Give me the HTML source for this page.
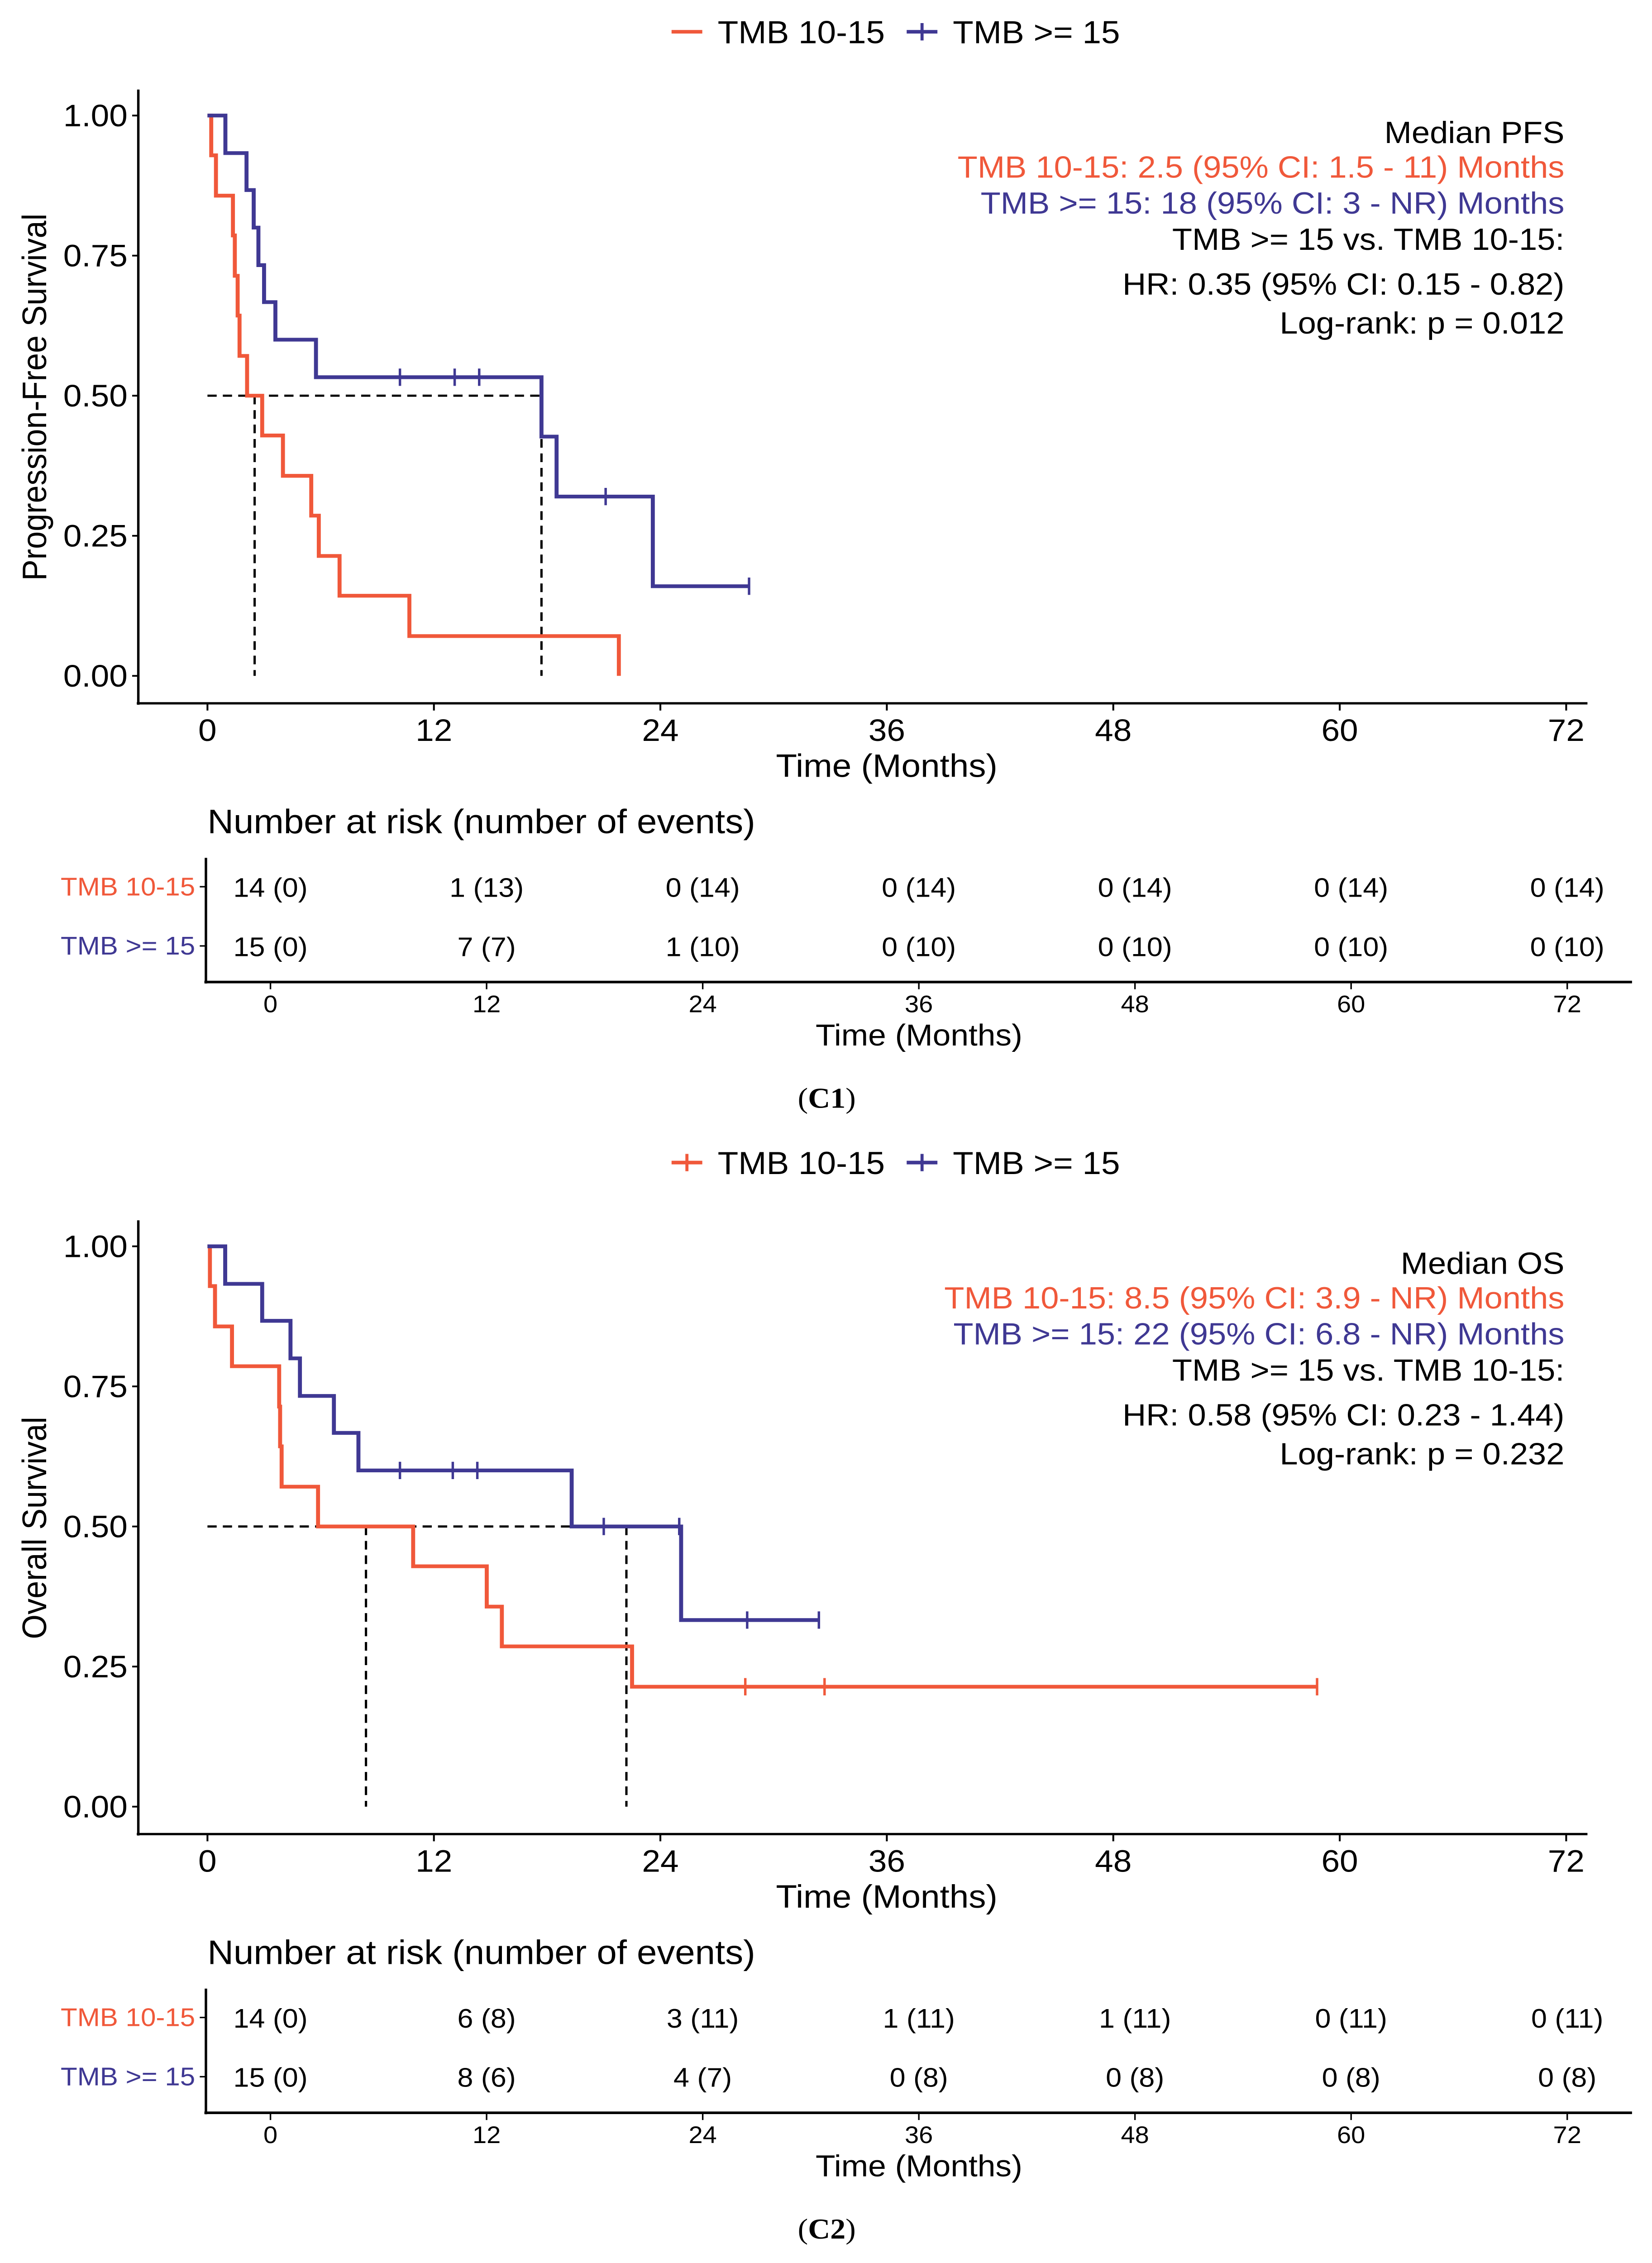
<!DOCTYPE html>
<html><head><meta charset="utf-8">
<style>
html,body{margin:0;padding:0;background:#fff;width:100%;height:100%;overflow:hidden;}
svg{display:block;position:absolute;left:0;top:0;width:100vw;height:100vh;font-family:"Liberation Sans",Arial,sans-serif;}
</style></head>
<body>
<svg id="fig" viewBox="0 0 1075 1567" preserveAspectRatio="none" xmlns="http://www.w3.org/2000/svg"></svg>
<script>
// ---- data ----
const xTicks = [0, 12, 24, 36, 48, 60, 72];
const yTicks = [0, 0.25, 0.5, 0.75, 1.0];
const yTickLabels = ["0.00", "0.25", "0.50", "0.75", "1.00"];
const groupNames = ["TMB 10-15", "TMB >= 15"];

// PFS
const pfsRedTimes = [0, 0.2, 0.45, 1.35, 1.45, 1.6, 1.7, 2.1, 2.9, 4.0, 5.5, 5.9, 7.0, 10.7, 21.8];
const pfsRedSurv = [1, 0.929, 0.857, 0.786, 0.714, 0.643, 0.571, 0.5, 0.429, 0.357, 0.286, 0.214, 0.143, 0.071, 0];
const pfsRedCensor = [];
const pfsRedEnd = 21.8;
const pfsBlueTimes = [0, 0.95, 2.07, 2.45, 2.7, 3.0, 3.6, 5.75, 17.7, 18.5, 23.6];
const pfsBlueSurv = [1, 0.933, 0.867, 0.8, 0.733, 0.667, 0.6, 0.533, 0.427, 0.32, 0.16];
const pfsBlueCensor = [10.2, 13.1, 14.4, 21.1, 28.7];
const pfsBlueEnd = 28.7;
const pfsMedians = [2.5, 17.7];
const pfsRiskRed = ["14 (0)", "1 (13)", "0 (14)", "0 (14)", "0 (14)", "0 (14)", "0 (14)"];
const pfsRiskBlue = ["15 (0)", "7 (7)", "1 (10)", "0 (10)", "0 (10)", "0 (10)", "0 (10)"];
const pfsAnnot = ["Median PFS", "TMB 10-15: 2.5 (95% CI: 1.5 - 11) Months", "TMB >= 15: 18 (95% CI: 3 - NR) Months", "TMB >= 15 vs. TMB 10-15:", "HR: 0.35 (95% CI: 0.15 - 0.82)", "Log-rank: p = 0.012"];

// OS
const osRedTimes = [0, 0.13, 0.4, 1.3, 3.8, 3.85, 3.93, 5.86, 10.9, 14.8, 15.6, 22.5];
const osRedSurv = [1, 0.929, 0.857, 0.786, 0.714, 0.643, 0.571, 0.5, 0.429, 0.357, 0.286, 0.214];
const osRedCensor = [28.5, 32.7, 58.8];
const osRedEnd = 58.8;
const osBlueTimes = [0, 0.94, 2.9, 4.4, 4.9, 6.7, 8.0, 19.3, 25.1];
const osBlueSurv = [1, 0.933, 0.867, 0.8, 0.733, 0.667, 0.6, 0.5, 0.333];
const osBlueCensor = [10.2, 13.0, 14.3, 21.0, 25.0, 28.6, 32.4];
const osBlueEnd = 32.4;
const osMedians = [8.4, 22.2];
const osRiskRed = ["14 (0)", "6 (8)", "3 (11)", "1 (11)", "1 (11)", "0 (11)", "0 (11)"];
const osRiskBlue = ["15 (0)", "8 (6)", "4 (7)", "0 (8)", "0 (8)", "0 (8)", "0 (8)"];
const osAnnot = ["Median OS", "TMB 10-15: 8.5 (95% CI: 3.9 - NR) Months", "TMB >= 15: 22 (95% CI: 6.8 - NR) Months", "TMB >= 15 vs. TMB 10-15:", "HR: 0.58 (95% CI: 0.23 - 1.44)", "Log-rank: p = 0.232"];

const RED = "#F0583A", BLUE = "#3F3893";
const NS = "http://www.w3.org/2000/svg";
const svg = document.getElementById("fig");

function mk(tag, attrs, parent, text) {
  const e = document.createElementNS(NS, tag);
  for (const k in attrs) e.setAttribute(k, attrs[k]);
  if (text !== undefined) e.textContent = text;
  (parent || svg).appendChild(e);
  return e;
}

function panel(off, cfg) {
  const g = mk("g", {});
  
  
  const X = t => 135 + 12.28 * t;
  const Y = v => off + 468 - 388 * v;

  const lg = mk("g", {}, g);
  
  
  const ly = off + 22;
  mk("line", {x1: 437, x2: 457, y1: ly, y2: ly, stroke: RED, "stroke-width": 2.5}, lg);
  if (cfg.legendCrossRed) mk("line", {x1: 447, x2: 447, y1: ly - 6, y2: ly + 6, stroke: RED, "stroke-width": 2}, lg);
  const lt1 = mk("text", {x: 467, y: ly + 8, "font-size": 22}, lg, groupNames[0]);
  
  
  mk("line", {x1: 590, x2: 610, y1: ly, y2: ly, stroke: BLUE, "stroke-width": 2.5}, lg);
  mk("line", {x1: 600, x2: 600, y1: ly - 6, y2: ly + 6, stroke: BLUE, "stroke-width": 2}, lg);
  const lt2 = mk("text", {x: 620, y: ly + 8, "font-size": 22}, lg, groupNames[1]);
  
  

  const ax = mk("g", {}, g);
  
  
  mk("line", {x1: 90, x2: 90, y1: off + 62, y2: off + 488, stroke: "#000", "stroke-width": 1.6}, ax);
  mk("line", {x1: 89, x2: 1033, y1: off + 487, y2: off + 487, stroke: "#000", "stroke-width": 1.6}, ax);
  yTicks.forEach((v, i) => {
    mk("line", {x1: 86, x2: 90, y1: Y(v), y2: Y(v), stroke: "#000", "stroke-width": 1.2}, ax);
    const t = mk("text", {x: 83, y: Y(v) + 7.5, "font-size": 21.5, "text-anchor": "end"}, ax, yTickLabels[i]);
    
    
  });
  xTicks.forEach(v => {
    mk("line", {x1: X(v), x2: X(v), y1: off + 487, y2: off + 492, stroke: "#000", "stroke-width": 1.2}, ax);
    const t = mk("text", {x: X(v), y: off + 513, "font-size": 21.5, "text-anchor": "middle"}, ax, String(v));
    
    
  });
  const xt = mk("text", {x: 577, y: off + 538, "font-size": 22.5, "text-anchor": "middle"}, ax, "Time (Months)");
  
  
  const yt = mk("text", {x: 0, y: 0, "font-size": 22, "text-anchor": "middle", transform: `translate(30,${off + 275}) rotate(-90)`}, ax, cfg.ytitle);
  
  

  const md = mk("g", {stroke: "#000", "stroke-width": 1.5, "stroke-dasharray": "6,4", fill: "none"}, g);
  
  
  mk("line", {x1: X(0), x2: X(cfg.medians[1]), y1: Y(0.5), y2: Y(0.5)}, md);
  cfg.medians.forEach(m => mk("line", {x1: X(m), x2: X(m), y1: Y(0.5), y2: Y(0)}, md));

  function curve(times, surv, end, censor, color, name) {
    let d = `M${X(times[0])},${Y(surv[0])}`;
    for (let i = 1; i < times.length; i++) {
      d += ` H${X(times[i])} V${Y(surv[i])}`;
    }
    d += ` H${X(end)}`;
    const p = mk("path", {d: d, fill: "none", stroke: color, "stroke-width": 2.6}, g);
    
    
    censor.forEach(c => {
      let s = surv[0];
      for (let i = 0; i < times.length; i++) if (times[i] <= c) s = surv[i];
      const m = mk("line", {x1: X(c), x2: X(c), y1: Y(s) - 6, y2: Y(s) + 6, stroke: color, "stroke-width": 1.6}, g);
      
      
    });
  }
  curve(cfg.redT, cfg.redS, cfg.redEnd, cfg.redC, RED, "curve-tmb-10-15");
  curve(cfg.blueT, cfg.blueS, cfg.blueEnd, cfg.blueC, BLUE, "curve-tmb-ge-15");

  const an = mk("g", {"font-size": 21.3, "text-anchor": "end"}, g);
  
  
  const ays = [99, 123, 148, 173, 204, 231];
  const acol = ["#000", RED, BLUE, "#000", "#000", "#000"];
  cfg.annot.forEach((s, i) => mk("text", {x: 1018, y: off + ays[i], fill: acol[i]}, an, s));

  const rt = mk("g", {}, g);
  
  
  const RX = t => 176 + 11.72 * t;
  mk("text", {x: 135, y: off + 577, "font-size": 23.5}, rt, "Number at risk (number of events)");
  mk("line", {x1: 134, x2: 134, y1: off + 594, y2: off + 681, stroke: "#000", "stroke-width": 1.6}, rt);
  mk("line", {x1: 133, x2: 1062, y1: off + 680, y2: off + 680, stroke: "#000", "stroke-width": 1.8}, rt);
  mk("line", {x1: 130, x2: 134, y1: off + 614, y2: off + 614, stroke: "#000", "stroke-width": 1}, rt);
  mk("line", {x1: 130, x2: 134, y1: off + 655, y2: off + 655, stroke: "#000", "stroke-width": 1}, rt);
  mk("text", {x: 127, y: off + 620, "font-size": 17.7, "text-anchor": "end", fill: RED}, rt, groupNames[0]);
  mk("text", {x: 127, y: off + 661, "font-size": 17.7, "text-anchor": "end", fill: BLUE}, rt, groupNames[1]);
  xTicks.forEach((v, i) => {
    const a = mk("text", {x: RX(v), y: off + 621, "font-size": 18.5, "text-anchor": "middle"}, rt, cfg.riskRed[i]);
    
    
    const b = mk("text", {x: RX(v), y: off + 662, "font-size": 18.5, "text-anchor": "middle"}, rt, cfg.riskBlue[i]);
    
    
    mk("line", {x1: RX(v), x2: RX(v), y1: off + 680, y2: off + 685, stroke: "#000", "stroke-width": 1}, rt);
    mk("text", {x: RX(v), y: off + 701, "font-size": 16.5, "text-anchor": "middle"}, rt, String(v));
  });
  mk("text", {x: 598, y: off + 724, "font-size": 21, "text-anchor": "middle"}, rt, "Time (Months)");
  const cap = mk("text", {x: 538, y: off + 767, "font-size": 20, "text-anchor": "middle", "font-family": "Liberation Serif, serif"}, g);
  
  
  cap.innerHTML = "(<tspan font-weight='bold'>" + cfg.caption + "</tspan>)";
}

panel(0, {name: "pfs-panel", ytitle: "Progression-Free Survival", legendCrossRed: false,
  redT: pfsRedTimes, redS: pfsRedSurv, redEnd: pfsRedEnd, redC: pfsRedCensor,
  blueT: pfsBlueTimes, blueS: pfsBlueSurv, blueEnd: pfsBlueEnd, blueC: pfsBlueCensor,
  medians: pfsMedians, annot: pfsAnnot, riskRed: pfsRiskRed, riskBlue: pfsRiskBlue, caption: "C1"});
panel(783, {name: "os-panel", ytitle: "Overall Survival", legendCrossRed: true,
  redT: osRedTimes, redS: osRedSurv, redEnd: osRedEnd, redC: osRedCensor,
  blueT: osBlueTimes, blueS: osBlueSurv, blueEnd: osBlueEnd, blueC: osBlueCensor,
  medians: osMedians, annot: osAnnot, riskRed: osRiskRed, riskBlue: osRiskBlue, caption: "C2"});
</script>
</body></html>
